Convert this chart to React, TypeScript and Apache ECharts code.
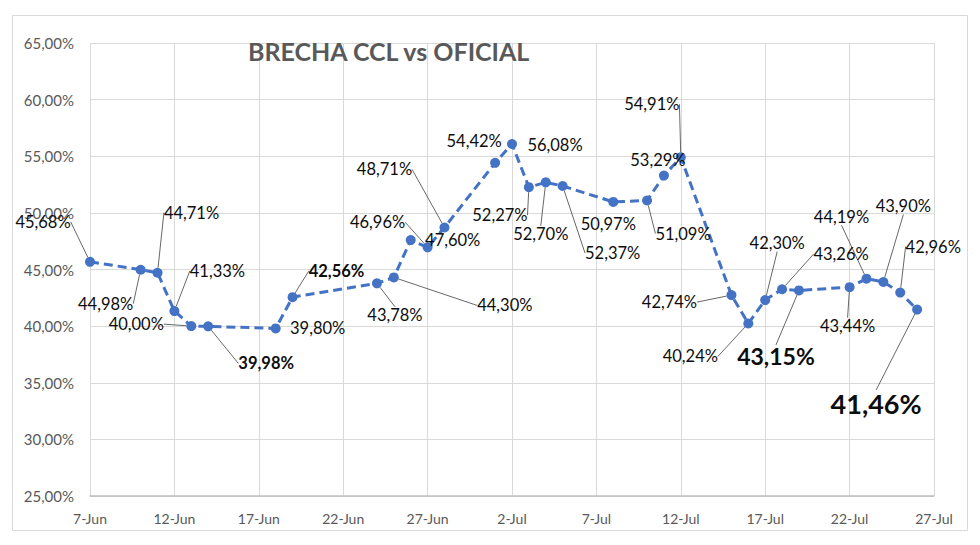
import React, { useEffect, useRef } from "react";
import * as echarts from "echarts";

// ---- data ----
const dates = [
  "7-Jun", "10-Jun", "11-Jun", "12-Jun", "13-Jun", "14-Jun", "18-Jun", "19-Jun",
  "24-Jun", "25-Jun", "26-Jun", "27-Jun", "28-Jun", "1-Jul", "2-Jul", "3-Jul",
  "4-Jul", "5-Jul", "8-Jul", "10-Jul", "11-Jul", "12-Jul", "15-Jul", "16-Jul",
  "17-Jul", "18-Jul", "19-Jul", "22-Jul", "23-Jul", "24-Jul", "25-Jul", "26-Jul",
];
const brecha = [
  45.68, 44.98, 44.71, 41.33, 40.0, 39.98, 39.8, 42.56,
  43.78, 44.3, 47.6, 46.96, 48.71, 54.42, 56.08, 52.27,
  52.7, 52.37, 50.97, 51.09, 53.29, 54.91, 42.74, 40.24,
  42.3, 43.26, 43.15, 43.44, 44.19, 43.9, 42.96, 41.46,
];
const axisStart = "7-Jun";
const axisEnd = "27-Jul";
const yMin = 25;
const yMax = 65;
const yStep = 5;
const xStepDays = 5;
const titleText = "BRECHA CCL vs OFICIAL";

// ---- label placement (style, not data): offset of label centre from its point ----
const labelOffsets: [number, number][] = [
  [-47, -40], [-35, 34], [34, -60], [43, -40], [-55, -2], [58, 37], [42, 0], [44, -26],
  [18, 32], [111, 28], [42, 0], [-50, -25], [-60, -58], [-21, -22], [43, 1], [-29, 28],
  [-5, 52], [50, 67], [-5, 22], [36, 33], [-6, -16], [-29, -53], [-62, 7], [-58, 33],
  [12, -57], [59, -35], [-23, 66], [-2, 39], [-25, -62], [20, -76], [33, -46], [-41, 94],
];
const noLeader = new Set([6, 10, 13, 14, 18, 20]);
const labelStyles: Record<number, { fontSize: number; fontWeight: string }> = {
  5: { fontSize: 16.5, fontWeight: "bold" },
  7: { fontSize: 16.5, fontWeight: "bold" },
  26: { fontSize: 23, fontWeight: "bold" },
  31: { fontSize: 27, fontWeight: "bold" },
};

const MONTHS = ["Jan", "Feb", "Mar", "Apr", "May", "Jun", "Jul", "Aug", "Sep", "Oct", "Nov", "Dec"];
const YEAR = 2021;
const DAY = 86400000;
function toUTC(s: string) {
  const [d, m] = s.split("-");
  return Date.UTC(YEAR, MONTHS.indexOf(m), Number(d));
}
const base = toUTC(axisStart);
const dayIndex = (s: string) => Math.round((toUTC(s) - base) / DAY);
const fmtDay = (v: number) => {
  const dt = new Date(base + v * DAY);
  return `${dt.getUTCDate()}-${MONTHS[dt.getUTCMonth()]}`;
};
const fmtPct = (v: number) => v.toFixed(2).replace(".", ",") + "%";

const FONT = "Lato, 'Noto Sans', sans-serif";

export default function App() {
  const ref = useRef<HTMLDivElement>(null);
  useEffect(() => {
    if (!ref.current) return;
    const chart = echarts.init(ref.current, undefined, { renderer: "svg" });
    const seriesData = dates.map((d, i) => {
      const item: any = { value: [dayIndex(d), brecha[i]] };
      const st = labelStyles[i];
      if (st) item.label = { fontSize: st.fontSize, fontWeight: st.fontWeight };
      if (noLeader.has(i)) item.labelLine = { show: false };
      return item;
    });
    chart.setOption({
      animation: false,
      backgroundColor: "#ffffff",
      title: {
        text: titleText,
        left: 243,
        top: 33,
        textStyle: { fontFamily: FONT, fontSize: 25, fontWeight: "bold", color: "#595959" },
      },
      graphic: [
        {
          type: "rect",
          left: 10,
          top: 13,
          shape: { width: 955, height: 515 },
          style: { fill: "none", stroke: "#d9d9d9", lineWidth: 1 },
          silent: true,
        },
      ],
      grid: { left: 90, right: 46, top: 43, bottom: 49, containLabel: false },
      xAxis: {
        type: "value",
        min: 0,
        max: dayIndex(axisEnd),
        interval: xStepDays,
        axisLine: { show: true, lineStyle: { color: "#bfbfbf", width: 1.5 } },
        axisTick: { show: false },
        splitLine: { show: true, lineStyle: { color: "#d9d9d9", width: 1 } },
        axisLabel: {
          formatter: (v: number) => fmtDay(v),
          color: "#595959",
          fontSize: 14,
          fontFamily: FONT,
          margin: 15,
          showMinLabel: true,
          showMaxLabel: true,
        },
      },
      yAxis: {
        type: "value",
        min: yMin,
        max: yMax,
        interval: yStep,
        axisLine: { show: false },
        axisTick: { show: false },
        splitLine: { show: true, lineStyle: { color: "#d9d9d9", width: 1 } },
        axisLabel: {
          formatter: (v: number) => fmtPct(v),
          color: "#595959",
          fontSize: 15,
          fontFamily: FONT,
          margin: 16,
        },
      },
      series: [
        {
          type: "line",
          data: seriesData,
          showAllSymbol: true,
          symbol: "circle",
          symbolSize: 10,
          itemStyle: { color: "#4472C4" },
          lineStyle: { color: "#4472C4", width: 3, type: [9, 5] },
          label: {
            show: true,
            formatter: (p: any) => fmtPct(p.value[1]),
            color: "#0d0d0d",
            fontSize: 16.5,
            fontFamily: FONT,
          },
          labelLine: {
            show: true,
            lineStyle: { color: "#404040", width: 0.8 },
          },
          labelLayout: (params: any) => {
            const off = labelOffsets[params.dataIndex] || [0, -15];
            const r = params.rect;
            return {
              x: r.x + r.width / 2 + off[0],
              y: r.y + r.height / 2 + off[1],
              align: "center",
              verticalAlign: "middle",
            };
          },
        },
      ],
    });
    return () => chart.dispose();
  }, []);
  return (
    <div
      ref={ref}
      style={{ position: "fixed", left: 0, top: 0, width: 980, height: 545, background: "#fff" }}
    />
  );
}
